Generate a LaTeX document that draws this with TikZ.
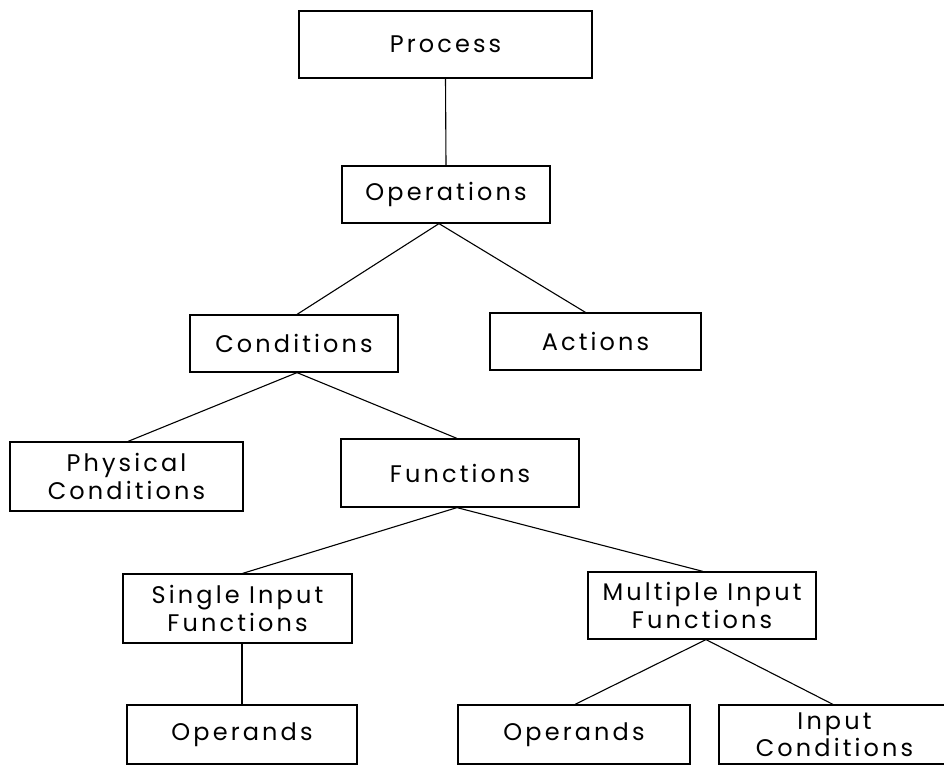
\documentclass[tikz,border=0pt]{standalone}
\usepackage{fontspec}
\setmainfont{Poppins}[LetterSpace=13]
\usetikzlibrary{calc}
\begin{document}
\begin{tikzpicture}[x=1pt,y=-1pt,
  box/.style={draw,line width=1.2pt,rectangle,inner sep=0pt,align=center,
    font=\fontsize{24}{27.5}\selectfont},
  link/.style={line width=1.1pt}]
\clip (0,0) rectangle (944,766);
\fill[white] (0,0) rectangle (944,766);
% boxes, placed by centre with their sizes
\node[box,minimum width=293,minimum height=67] (proc) at (445.5,44.5) {Process};
\node[box,minimum width=208,minimum height=57] (ops) at (446,194.5) {Operations};
\node[box,minimum width=208,minimum height=57] (cond) at (294,343.5) {Conditions};
\node[box,minimum width=211,minimum height=57] (act) at (595.5,341.5) {Actions};
\node[box,minimum width=233,minimum height=69] (phys) at (126.5,476.5) {Physical\\Conditions};
\node[box,minimum width=238,minimum height=68] (func) at (460,473) {Functions};
\node[box,minimum width=229,minimum height=69] (single) at (237.5,608.5) {Single Input\\Functions};
\node[box,minimum width=228,minimum height=67] (multi) at (702,605.5) {Multiple Input\\Functions};
\node[box,minimum width=230,minimum height=59] (opa) at (242,734.5) {Operands};
\node[box,minimum width=232,minimum height=59] (opb) at (574,734.5) {Operands};
\node[box,minimum width=231,minimum height=59] (inc) at (834.5,734.5) {Input\\Conditions};
% tree connectors
\draw[link] (proc.south) -- (ops.north);
\draw[link] ([xshift=-7pt]ops.south) -- ([xshift=3pt]cond.north);
\draw[link] ([xshift=-7pt]ops.south) -- ([xshift=-10pt]act.north);
\draw[link] ([xshift=3pt]cond.south) -- ([xshift=1.5pt]phys.north);
\draw[link] ([xshift=3pt]cond.south) -- ([xshift=-3pt]func.north);
\draw[link] ([xshift=-3pt]func.south) -- ([xshift=5pt]single.north);
\draw[link] ([xshift=-3pt]func.south) -- ([xshift=1pt]multi.north);
\draw[link] ([xshift=4.5pt]single.south) -- (opa.north);
\draw[link] ([xshift=4pt]multi.south) -- ([xshift=1pt]opb.north);
\draw[link] ([xshift=4pt]multi.south) -- ([xshift=-1.5pt]inc.north);
\end{tikzpicture}
\end{document}
